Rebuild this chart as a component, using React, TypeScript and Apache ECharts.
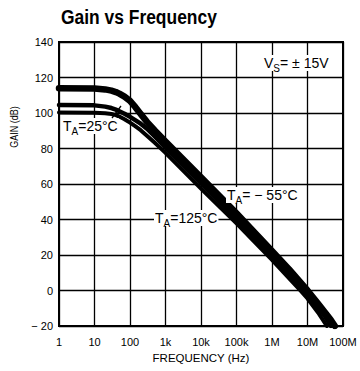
import { useEffect, useRef } from "react";
import * as echarts from "echarts";

// Tick labels
const xTickLabels = ["1", "10", "100", "1k", "10k", "100k", "1M", "10M", "100M"];
const yMin = -20;
const yMax = 140;
const yStep = 20;

// T_A = -55°C (top curve)
const freqM55 = [1, 10, 20, 30, 40, 50, 70, 100, 140, 200, 300, 500, 1e3, 1e4, 1e5, 1e6, 3e6, 1e7, 2e7, 3e7, 4.5e7, 5.9e7];
const gainM55 = [114, 113.8, 113.3, 112.6, 111.8, 110.9, 109.2, 106.8, 103.4, 99.4, 95, 90.2, 84, 63.8, 43.5, 22.3, 12, 0, -7.5, -12, -16.5, -20];

// T_A = 25°C (middle curve)
const freq25 = [1, 10, 20, 30, 40, 50, 70, 100, 140, 200, 300, 500, 1e3, 1e4, 1e5, 1e6, 3e6, 1e7, 2e7, 3e7, 4.6e7];
const gain25 = [104.5, 104.3, 103.6, 102.8, 101.9, 101, 99.6, 97.8, 96, 94, 91.2, 86.8, 80.8, 60.5, 40.3, 19.8, 9.5, -2.2, -9.5, -14, -20];

// T_A = 125°C (bottom curve)
const freq125 = [1, 10, 20, 30, 40, 50, 70, 100, 140, 200, 300, 500, 1e3, 1e4, 1e5, 1e6, 3e6, 6.3e6, 1e7, 2e7, 3.5e7];
const gain125 = [100.3, 100.2, 99.9, 99.4, 98.8, 98, 96.5, 94.6, 92.6, 90.3, 87.2, 83.2, 77.6, 57.4, 37.8, 17.3, 7, 0, -4.5, -12.5, -20];

const FONT = "'Liberation Sans', Arial, sans-serif";

const zip = (f: number[], g: number[]) => f.map((v, i) => [v, g[i]]);

const subRich = (size: number) => ({
  m: { fontSize: size, lineHeight: size + 2, fontFamily: FONT, color: "#000" },
  s: { fontSize: 10, lineHeight: 10, padding: [size - 4, 0, 0, 0], fontFamily: FONT, color: "#000" },
});

function label(x: number, y: number, text: string, size = 14) {
  return {
    type: "text",
    x,
    y,
    z: 100,
    style: {
      text,
      rich: subRich(size),
      align: "left",
      verticalAlign: "middle",
      backgroundColor: "#fff",
      padding: [0, 1, 0, 1],
    },
  };
}

export default function App() {
  const ref = useRef<HTMLDivElement>(null);
  useEffect(() => {
    if (!ref.current) return;
    const chart = echarts.init(ref.current, null, { renderer: "svg" });
    const line = (name: string, data: number[][], w: number) => ({
      name,
      type: "line",
      data,
      showSymbol: false,
      symbol: "none",
      smooth: false,
      clip: true,
      lineStyle: { color: "#000", width: w, cap: "round", join: "round" },
      z: 5,
    });
    chart.setOption({
      animation: false,
      backgroundColor: "#fff",
      grid: {
        left: 59,
        right: 17,
        top: 42,
        bottom: 45,
        show: true,
        borderColor: "#000",
        borderWidth: 2,
        backgroundColor: "transparent",
      },
      xAxis: {
        type: "log",
        logBase: 10,
        min: 1,
        max: 1e8,
        splitNumber: 8,
        name: "FREQUENCY (Hz)",
        nameLocation: "middle",
        nameGap: 25,
        nameTextStyle: { fontFamily: FONT, fontSize: 11.5, color: "#000" },
        axisLine: { show: true, onZero: false, lineStyle: { color: "#000", width: 2 } },
        axisTick: { show: false },
        axisLabel: {
          margin: 10,
          fontFamily: FONT,
          fontSize: 11,
          color: "#000",
          formatter: (v: number) => xTickLabels[Math.round(Math.log10(v))] ?? "",
        },
        splitLine: { show: true, lineStyle: { color: "#000", width: 1.3 } },
      },
      yAxis: {
        type: "value",
        min: yMin,
        max: yMax,
        interval: yStep,
        axisLine: { show: true, lineStyle: { color: "#000", width: 2 } },
        axisTick: { show: false },
        axisLabel: {
          margin: 6,
          fontFamily: FONT,
          fontSize: 11,
          color: "#000",
          formatter: (v: number) => (v < 0 ? "\u2212 " + -v : String(v)),
        },
        splitLine: { show: true, lineStyle: { color: "#000", width: 1.3 } },
      },
      series: [
        line("TA = -55°C", zip(freqM55, gainM55), 6.5),
        line("TA = 25°C", zip(freq25, gain25), 4.5),
        line("TA = 125°C", zip(freq125, gain125), 4),
      ],
      graphic: [
        {
          type: "text",
          x: 61,
          y: 17,
          scaleX: 0.83,
          style: {
            text: "Gain vs Frequency",
            fontFamily: FONT,
            fontSize: 21,
            fontWeight: "bold",
            fill: "#000",
            align: "left",
            verticalAlign: "middle",
          },
        },
        {
          type: "text",
          x: 14,
          y: 127,
          rotation: Math.PI / 2,
          scaleX: 0.78,
          style: {
            text: "GAIN (dB)",
            fontFamily: FONT,
            fontSize: 11.5,
            fill: "#000",
            align: "center",
            verticalAlign: "middle",
          },
        },
        label(263, 63, "{m|V}{s|S}{m|= \u00b1 15V}", 14),
        label(62, 126, "{m|T}{s|A}{m|=25°C}", 14),
        label(154, 218, "{m|T}{s|A}{m|=125°C}", 14),
        label(226, 195, "{m|T}{s|A}{m|= \u2212 55°C}", 14),
        {
          type: "line",
          z: 101,
          shape: { x1: 112, y1: 118, x2: 121, y2: 106 },
          style: { stroke: "#000", lineWidth: 1.3 },
        },
      ],
    });
    return () => chart.dispose();
  }, []);
  return (
    <div
      ref={ref}
      style={{ position: "fixed", left: 0, top: 0, width: 360, height: 371 }}
    />
  );
}
